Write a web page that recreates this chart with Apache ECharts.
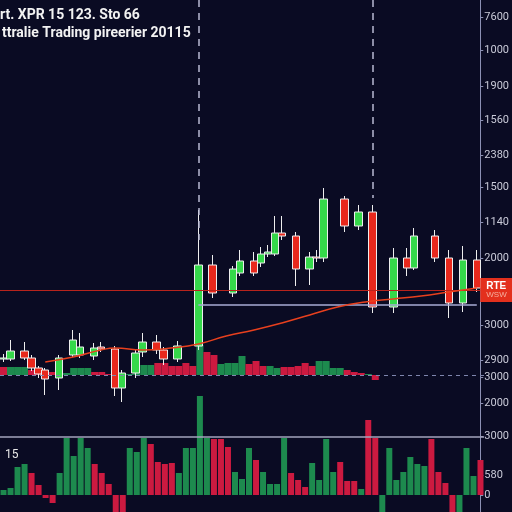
<!DOCTYPE html>
<html>
<head>
<meta charset="utf-8">
<title>XPR candles</title>
<script src="https://cdn.jsdelivr.net/npm/echarts@6.0.0/dist/echarts.min.js"></script>
<style>
  html, body { margin: 0; padding: 0; background: #0a0b23; }
  #chart { width: 512px; height: 512px; }
</style>
</head>
<body>
<div id="chart"></div>
<script>
// 69 time slots, shared by candles, volume and the histogram
const slots = Array.from({ length: 69 }, (_, i) => 'T' + (i + 1));

// candles (slot index, open, close, low, high)
const candleSlots = [0, 1, 3, 4, 5, 6, 8, 10, 11, 13, 14, 16, 17, 19, 20, 22, 23, 25, 28, 30, 33,
  34, 36, 37, 38, 39, 40, 42, 44, 45, 46, 49, 51, 53, 56, 58, 59, 62, 64, 66, 68];
const opens = [1530, 1530, 1610, 1540, 1440, 1420, 1340, 1570, 1570, 1560, 1650, 1630, 1240, 1390, 1600, 1700, 1620, 1530, 1660, 2470, 2190,
  2390, 2510, 2490, 2580, 2580, 2790, 2760, 2430, 2550, 2540, 3130, 2860, 3000, 2050, 2540, 2440, 2760, 2540, 2090, 2520];
const closes = [1540, 1610, 1540, 1440, 1380, 1330, 1540, 1720, 1650, 1640, 1630, 1240, 1390, 1590, 1700, 1620, 1530, 1660, 2470, 2190, 2430,
  2510, 2390, 2580, 2600, 2790, 2760, 2430, 2550, 2540, 3130, 2860, 3000, 2050, 2540, 2440, 2760, 2540, 2090, 2520, 2240];
const lows = [1500, 1510, 1520, 1410, 1340, 1170, 1220, 1550, 1540, 1520, 1600, 1160, 1100, 1340, 1550, 1580, 1470, 1500, 1620, 2140, 2150,
  2360, 2360, 2450, 2550, 2560, 2720, 2260, 2270, 2500, 2500, 2800, 2820, 1990, 1990, 2360, 2420, 2500, 1940, 2000, 2200];
const highs = [1580, 1720, 1700, 1570, 1460, 1440, 1570, 1820, 1790, 1690, 1700, 1660, 1420, 1620, 1790, 1770, 1650, 1710, 3020, 2570, 2460,
  2620, 2600, 2650, 2670, 2960, 2960, 2800, 2600, 2620, 3240, 3160, 3070, 3070, 2640, 2640, 2840, 2820, 2620, 2660, 2620];

// moving average (slot index, value)
const maSlots = [6, 10, 14, 16, 20, 24, 28, 32, 36, 40, 44, 48, 52, 56, 60, 64, 68];
const maValues = [1500, 1550, 1620, 1640, 1620, 1640, 1680, 1760, 1820, 1890, 1970, 2050, 2100, 2130, 2160, 2200, 2240];

// price levels
const priceLine = 2220;
const supportLine = 2070;
const markSlotA = 28, markTopA = 2720;
const markSlotB = 53, markTopB = 3140;

// volume under the candles (g = up, r = down)
const volValues = [800, 800, 800, 800, 500, 300, 300, 300, 200, 200, 700, 700, 700, 300, 300, 100, 100, 100, 100, 500,
  1000, 1000, 1200, 1200, 900, 900, 1200, 900, 3000, 2300, 2000, 1100, 1200, 1200, 1900, 1100, 1400, 900, 900, 700,
  800, 800, 900, 1200, 900, 1400, 1400, 700, 700, 500, 300, 200, 100, -500];
const volSide = ['r', 'g', 'g', 'g', 'r', 'r', 'r', 'r', 'r', 'g', 'g', 'g', 'g', 'r', 'r', 'r', 'r', 'g', 'g', 'g',
  'g', 'g', 'r', 'r', 'r', 'r', 'r', 'r', 'g', 'r', 'r', 'g', 'g', 'g', 'g', 'r', 'r', 'r', 'g', 'g',
  'r', 'r', 'r', 'r', 'r', 'g', 'g', 'g', 'g', 'r', 'r', 'r', 'g', 'r'];

// bottom histogram
const histValues = [150, 210, 840, 930, 660, 300, -90, -240, 660, 1710, 1170, 1710, 1410, 930, 660, 330, -510, -510, 1410, 1290,
  1710, 1530, 990, 930, 960, 660, 1410, 1410, 2970, 1710, 1680, 1680, 1440, 690, 480, 1410, 1050, 690, 330, 330,
  1710, 660, 450, 240, 960, 450, 1680, 690, 990, 420, 420, 180, 2250, 1710, -510, 1410, 450, 690, 1140, 930,
  870, 1680, 690, 360, -510, -510, 1410, 570, 1050];
const histSide = ['g', 'g', 'g', 'g', 'r', 'r', 'r', 'r', 'g', 'g', 'g', 'g', 'g', 'r', 'r', 'r', 'r', 'r', 'g', 'g',
  'g', 'r', 'r', 'r', 'r', 'g', 'g', 'g', 'g', 'g', 'r', 'r', 'r', 'g', 'g', 'g', 'r', 'g', 'g', 'g',
  'g', 'r', 'r', 'r', 'g', 'g', 'g', 'g', 'r', 'r', 'r', 'g', 'r', 'r', 'g', 'g', 'g', 'g', 'g', 'g',
  'g', 'r', 'r', 'r', 'r', 'g', 'g', 'g', 'r'];
const histSplit = 1740;

// right axis tick labels and where they sit on the price scale
const tickPrices = [4950, 4620, 4260, 3920, 3570, 3250, 2900, 2540, 1870, 1520, 1350, 1090, 760, 370, 170];
const tickLabels = ['7600', '1000', '1900', '1560', '2380', '1500', '1140', '2000', '3000', '2900', '3000', '2000', '3000', '580', '0'];

const GREEN = '#35d84a', RED = '#e8281c';
const VGREEN = '#1d8a4e', VRED = '#cc1a40';

// build the series arrays
const candleData = slots.map(() => '-');
candleSlots.forEach((s, i) => { candleData[s] = [opens[i], closes[i], lows[i], highs[i]]; });
const maData = slots.map(() => null);
maSlots.forEach((s, i) => { maData[s] = maValues[i]; });
const volData = slots.map((_, i) => i < volValues.length ? volValues[i] : '-');

const chart = echarts.init(document.getElementById('chart'));

const hiddenX = (gi) => ({
  type: 'category', gridIndex: gi, data: slots, boundaryGap: true,
  axisLine: { show: false }, axisTick: { show: false }, axisLabel: { show: false }, splitLine: { show: false }
});

const titleFont = { color: '#f2f2f2', fontSize: 14, fontWeight: 'bold', fontFamily: 'Roboto' };

const option = {
  backgroundColor: '#0a0b23',
  animation: false,
  title: [
    { text: 'rt. XPR 15 123. Sto 66', left: -5, top: 3, textStyle: titleFont },
    { text: 'ttralie Trading pireerier 20115', left: -3, top: 21, textStyle: titleFont },
    { text: '15', left: 0, top: 444, textStyle: { color: '#e8e8e8', fontSize: 12, fontWeight: 'normal', fontFamily: 'Roboto' } }
  ],
  grid: [
    { left: 0, right: 28, top: 0, bottom: 0 },
    { left: 0, right: 28, top: 330, height: 55 },
    { left: 0, right: 28, top: 380, bottom: 0 }
  ],
  xAxis: [hiddenX(0), hiddenX(1), hiddenX(2)],
  yAxis: [
    {
      type: 'value', gridIndex: 0, position: 'right', min: 0, max: 5120, scale: false,
      axisLine: { show: true, lineStyle: { color: '#8c90b4', width: 1 } },
      axisTick: { show: true, customValues: tickPrices, length: 3, lineStyle: { color: '#8c90b4' } },
      axisLabel: {
        show: true, customValues: tickPrices, margin: 4, color: '#c9cad8', fontSize: 11, fontFamily: 'Roboto',
        formatter: (v) => { const k = tickPrices.indexOf(v); return k >= 0 ? tickLabels[k] : ''; }
      },
      splitLine: { show: false }
    },
    { type: 'value', gridIndex: 1, min: -1000, max: 4500, show: false, splitLine: { show: false } },
    { type: 'value', gridIndex: 2, min: -510, max: 3450, show: false, splitLine: { show: false } }
  ],
  series: [
    {
      name: 'Volume', type: 'bar', xAxisIndex: 1, yAxisIndex: 1, data: volData, barWidth: 7, z: 1,
      itemStyle: { color: (p) => volSide[p.dataIndex] === 'g' ? VGREEN : VRED },
      markLine: {
        silent: true, symbol: 'none', label: { show: false },
        lineStyle: { color: '#7f86ae', type: [4, 4], width: 1 },
        data: [{ yAxis: 0 }]
      }
    },
    {
      name: 'Hist', type: 'bar', xAxisIndex: 2, yAxisIndex: 2, data: histValues, barWidth: 6, z: 1,
      itemStyle: { color: (p) => histSide[p.dataIndex] === 'g' ? VGREEN : VRED },
      markLine: {
        silent: true, symbol: 'none', label: { show: false },
        lineStyle: { color: '#a3a4bc', type: 'solid', width: 1.5 },
        data: [{ yAxis: histSplit }]
      }
    },
    {
      name: 'XPR', type: 'candlestick', xAxisIndex: 0, yAxisIndex: 0, data: candleData, barWidth: 8, z: 4,
      itemStyle: { color: GREEN, color0: RED, borderColor: '#eeeeee', borderColor0: '#eeeeee', borderWidth: 1 },
      markLine: {
        silent: true, symbol: 'none',
        data: [
          {
            yAxis: priceLine, lineStyle: { color: '#b8231c', width: 1, type: 'solid' },
            label: {
              show: true, position: 'end', distance: 0, backgroundColor: '#e3301d', padding: [3, 6, 3, 6],
              formatter: '{a|RTE}\n{b|WSW}',
              rich: { a: { color: '#ffffff', fontSize: 10, fontWeight: 'bold', lineHeight: 10 }, b: { color: '#f5b0a0', fontSize: 8, lineHeight: 8 } }
            }
          },
          [
            { coord: [slots[markSlotA], supportLine], lineStyle: { color: '#a9acd6', width: 1.5, type: 'solid' }, label: { show: false } },
            { coord: [slots[slots.length - 1], supportLine] }
          ],
          [
            { coord: [slots[markSlotA], 5120], lineStyle: { color: '#b9bbd4', width: 1.5, type: [7, 6] }, label: { show: false } },
            { coord: [slots[markSlotA], markTopA] }
          ],
          [
            { coord: [slots[markSlotB], 5120], lineStyle: { color: '#b9bbd4', width: 1.5, type: [7, 6] }, label: { show: false } },
            { coord: [slots[markSlotB], markTopB] }
          ]
        ]
      }
    },
    {
      name: 'MA', type: 'line', xAxisIndex: 0, yAxisIndex: 0, data: maData, connectNulls: true, smooth: true,
      symbol: 'none', z: 5, lineStyle: { color: '#e8401e', width: 1.5 }
    }
  ]
};

chart.setOption(option);
</script>
</body>
</html>
